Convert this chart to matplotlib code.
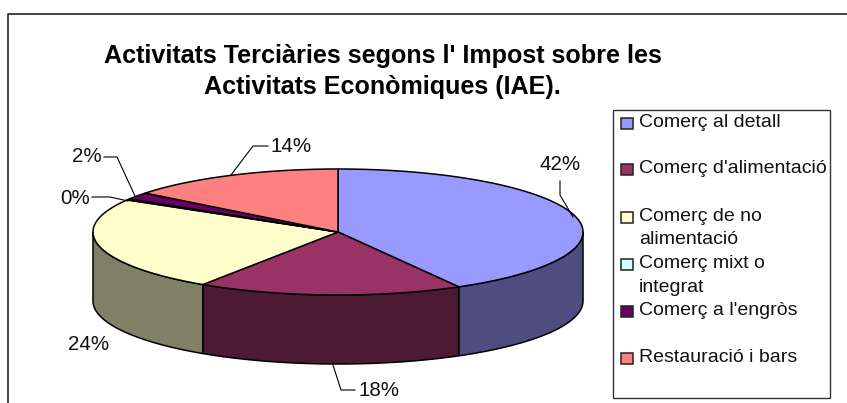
import numpy as np
import matplotlib
matplotlib.use("Agg")
import matplotlib.pyplot as plt
from matplotlib.patches import Polygon, Rectangle
import matplotlib.colors as mc

plt.rcParams['font.family'] = ['Liberation Sans', 'DejaVu Sans']

categories = ["Comerç al detall", "Comerç d'alimentació", "Comerç de no\nalimentació",
              "Comerç mixt o\nintegrat", "Comerç a l'engròs", "Restauració i bars"]
values = [41.8, 17.5, 24.2, 0.3, 1.8, 14.4]
pct_labels = ["42%", "18%", "24%", "0%", "2%", "14%"]
colors = ["#9999FF", "#993366", "#FFFFCC", "#CCFFFF", "#660066", "#FF8080"]
title_lines = ["Activitats Terciàries segons l' Impost sobre les",
               "Activitats Econòmiques (IAE)."]

fig = plt.figure(figsize=(8.47, 4.03), dpi=100)
ax = fig.add_axes([0, 0, 1, 1])
ax.set_xlim(0, 847); ax.set_ylim(403, 0); ax.axis('off')

# outer frame (runs off the bottom and right edges)
ax.plot([8, 8, 847], [403, 13.5, 13.5], color='#222222', lw=1.2, clip_on=False)

cx, cy, rx, ry, depth = 338, 232, 245, 63, 69
def ell(t):
    t = np.asarray(t)
    return cx + rx*np.sin(t), cy - ry*np.cos(t)

edges = np.r_[0, np.cumsum(values)] / sum(values) * 2*np.pi
# side walls
for i, c in enumerate(colors):
    a, b = max(edges[i], np.pi/2), min(edges[i+1], 3*np.pi/2)
    if b <= a:
        continue
    t = np.linspace(a, b, 120)
    x, y = ell(t)
    pts = np.r_[np.c_[x, y], np.c_[x[::-1], y[::-1]+depth]]
    dark = tuple(v*0.5 for v in mc.to_rgb(c))
    ax.add_patch(Polygon(pts, closed=True, fc=dark, ec='black', lw=1.1, joinstyle='round', zorder=2))
# top faces
for i, c in enumerate(colors):
    t = np.linspace(edges[i], edges[i+1], 200)
    x, y = ell(t)
    pts = np.r_[[[cx, cy]], np.c_[x, y]]
    ax.add_patch(Polygon(pts, closed=True, fc=c, ec='black', lw=1.1, joinstyle='round', zorder=3))

# title
ax.text(382.5, 56.5, title_lines[0], ha='center', va='center', fontsize=18.1, fontweight='bold', color='black')
ax.text(382.5, 87, title_lines[1], ha='center', va='center', fontsize=18.1, fontweight='bold', color='black')

# percentage labels and leaders
label_pos = [(560, 165), (379, 390.5), (88.5, 344.5), (75, 198), (87, 157), (291, 147)]
leaders = [[(560, 181), (560, 195), (573, 217)],
           [(333, 365), (341, 390), (355, 390)],
           None,
           [(92, 197), (110, 197), (128, 201)],
           [(104, 157), (117, 157), (135, 196)],
           [(231, 175), (253, 146), (268, 146)]]
for lab, p, l in zip(pct_labels, label_pos, leaders):
    ax.text(p[0], p[1], lab, ha='center', va='center', fontsize=14.8, color='#111111')
    if l:
        xs, ys = zip(*l)
        ax.plot(xs, ys, color='black', lw=0.8, zorder=4)

# legend
ax.add_patch(Rectangle((613, 109.5), 217, 288, fc='white', ec='#333333', lw=1, zorder=1))
leg_y = [122, 168, 216, 263, 310, 357]
for name, c, y in zip(categories, colors, leg_y):
    ax.add_patch(Rectangle((621, y-4), 12, 11, fc=c, ec='#222222', lw=1.1, zorder=2))
    ax.text(639, y+0.5, name.split("\n")[0], ha='left', va='center', fontsize=14, color='#111111')
    if "\n" in name:
        ax.text(639, y+24, name.split("\n")[1], ha='left', va='center', fontsize=14, color='#111111')

fig.savefig("out.png", dpi=100, facecolor='white')
